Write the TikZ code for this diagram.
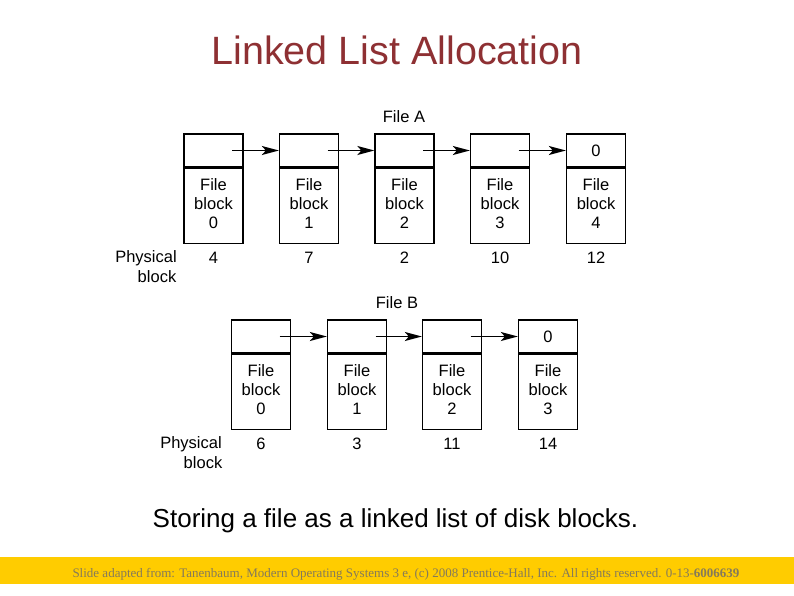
\documentclass[tikz,border=0pt]{standalone}
\usepackage{fontspec}
\setmainfont{Liberation Sans}
\newfontfamily\footfont{Liberation Serif}
\usetikzlibrary{arrows.meta}
\definecolor{titlered}{HTML}{8E3033}
\definecolor{baryellow}{HTML}{FFCC00}
\definecolor{foottext}{HTML}{857A5A}
\tikzset{
  ptrcell/.style={draw, line width=1.3pt, minimum width=59pt, minimum height=33pt, inner sep=0pt},
  datacell/.style={draw, line width=1.3pt, minimum width=59pt, minimum height=75pt, inner sep=0pt},
  celltext/.style={inner sep=0pt, align=center, font=\fontsize{16.5}{19}\selectfont},
  lbl/.style={inner sep=0pt, font=\fontsize{16.5}{19}\selectfont},
  nextarrow/.style={line width=1.5pt, -{Stealth[length=17pt,width=9pt,inset=4pt]}}
}
\begin{document}
\begin{tikzpicture}[x=1pt,y=-1pt]
\useasboundingbox (0,0) rectangle (794,595);
\fill[white] (0,0) rectangle (794,595);
% title
\node[text=titlered, font=\fontsize{39.5}{42}\selectfont, inner sep=0pt] (title) at (397,50) {Linked List Allocation};
% File A
\node[lbl] (fa) at (404,117) {File A};
\foreach \i/\x/\p in {0/213.5/4, 1/309/7, 2/404.5/2, 3/500/10, 4/596/12} {
  \node[ptrcell] (A\i t) at (\x,150.5) {};
  \node[datacell, anchor=north] (A\i b) at (A\i t.south) {};
  \node[celltext, yshift=2.5pt] (A\i x) at (A\i b.center) {File\\block\\\i};
  \node[lbl] (A\i p) at (\x,258) {\p};
}
\node[lbl] (A4z) at (A4t.center) {0};
\foreach \i/\j in {0/1,1/2,2/3,3/4} {
  \draw[nextarrow] ([xshift=18.5pt]A\i t.center) -- (A\j t.west);
}
\node[lbl] (pa1) at (146,258) {Physical};
\node[lbl] (pa2) at (157,277) {block};
% File B
\node[lbl] (fb) at (397,303) {File B};
\foreach \i/\x/\p in {0/261/6, 1/357/3, 2/452/11, 3/548/14} {
  \node[ptrcell] (B\i t) at (\x,336.5) {};
  \node[datacell, anchor=north] (B\i b) at (B\i t.south) {};
  \node[celltext, yshift=2.5pt] (B\i x) at (B\i b.center) {File\\block\\\i};
  \node[lbl] (B\i p) at (\x,444) {\p};
}
\node[lbl] (B3z) at (B3t.center) {0};
\foreach \i/\j in {0/1,1/2,2/3} {
  \draw[nextarrow] ([xshift=18.5pt]B\i t.center) -- (B\j t.west);
}
\node[lbl] (pb1) at (191,444) {Physical};
\node[lbl] (pb2) at (203,463) {block};
% caption
\node[font=\fontsize{26}{28}\selectfont, inner sep=0pt] (cap) at (395.5,521) {Storing a file as a linked list of disk blocks.};
% footer bar
\fill[baryellow] (0,557) rectangle (794,584);
\node[text=foottext, font=\footfont\fontsize{13}{14}\selectfont, inner sep=0pt] (foot) at (406,574) {Slide adapted from: Tanenbaum, Modern Operating Systems 3 e, (c) 2008 Prentice-Hall, Inc. All rights reserved. 0-13-\textbf{6006639}};
\end{tikzpicture}
\end{document}
